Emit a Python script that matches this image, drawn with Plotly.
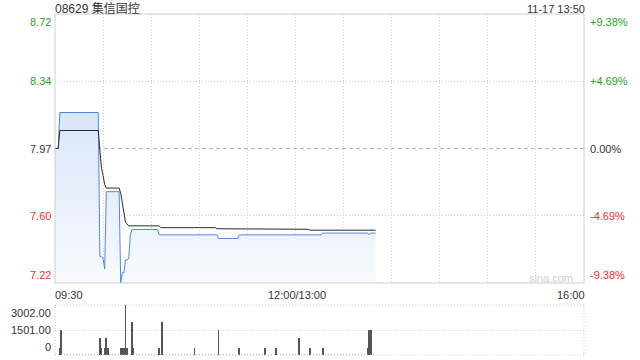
import plotly.graph_objects as go

# ---------------- data ----------------
title_text = "08629 集信国控"
stamp_text = "11-17 13:50"
preclose = 7.97

# price per trading minute, as (value, number of minutes) runs
price_runs = [(7.97, 3), (8.17, 25), (7.37, 2), (7.36, 1), (7.30, 1), (7.73, 9),
              (7.22, 1), (7.28, 2), (7.35, 2), (7.36, 1), (7.49, 1), (7.52, 17),
              (7.49, 37), (7.47, 13), (7.49, 52), (7.50, 29), (7.49, 1), (7.50, 4)]
# average price per trading minute, as runs
avg_runs = [(7.97, 3), (8.07, 25), (7.96, 1), (7.86, 1), (7.82, 1), (7.77, 1),
            (7.75, 9), (7.72, 1), (7.67, 1), (7.62, 1), (7.56, 1), (7.55, 1),
            (7.54, 20), (7.53, 35), (7.524, 38), (7.521, 20), (7.516, 42)]

vol_minutes = [3, 4, 28, 29, 31, 32, 33, 41, 42, 43, 44, 45, 48, 49, 65, 67,
               87, 102, 115, 131, 138, 152, 159, 167, 195, 196, 197]
vol_values = [450, 1500, 1000, 450, 450, 1000, 450, 450, 450, 450, 3000, 450, 2000, 450, 450, 2000,
              450, 1500, 450, 450, 450, 1000, 450, 450, 450, 1500, 1500]

pct_levels = [9.38, 4.69, 0.00, -4.69, -9.38]
price_labels = ["8.72", "8.34", "7.97", "7.60", "7.22"]
pct_labels = ["+9.38%", "+4.69%", "0.00%", "-4.69%", "-9.38%"]
vol_levels = [3002, 1501, 0]
vol_labels = ["3002.00", "1501.00", "0"]
time_labels = ["09:30", "12:00/13:00", "16:00"]
time_minutes = [0, 150, 330]
session_minutes = 330

# ---------------- build ----------------
def expand(runs):
    out = []
    for v, n in runs:
        out += [v] * n
    return out

price = expand(price_runs)
avg = expand(avg_runs)
minutes = list(range(len(price)))
levels = [preclose * (1 + p / 100) for p in pct_levels]
ymax, ymin = levels[0], levels[-1]

FONT = "Liberation Sans, Arial, Noto Sans CJK SC, sans-serif"
GREEN, RED, DARK = "#1fa51f", "#f03030", "#333333"
W, H = 640, 360
MT, MB = 14, 5
PH = H - MT - MB


def py(pix):
    return (H - MB - pix) / PH


fig = go.Figure()
# baseline for the fill
fig.add_trace(go.Scatter(x=minutes, y=[ymin] * len(minutes), mode="lines",
                         line=dict(width=0, color="rgba(0,0,0,0)"), hoverinfo="skip",
                         showlegend=False, xaxis="x", yaxis="y"))
fig.add_trace(go.Scatter(x=minutes, y=price, mode="lines", fill="tonexty",
                         fillgradient=dict(type="vertical",
                                           colorscale=[[0, "rgb(248,250,254)"], [1, "rgb(218,230,250)"]]),
                         line=dict(color="#4f87e6", width=1), showlegend=False,
                         xaxis="x", yaxis="y"))
fig.add_trace(go.Scatter(x=minutes, y=avg, mode="lines",
                         line=dict(color="#2b2b2b", width=1), showlegend=False,
                         xaxis="x", yaxis="y"))
# volume baseline (zero-volume minutes drawn as dots)
fig.add_trace(go.Scatter(x=minutes, y=[0] * len(minutes), mode="lines",
                         line=dict(color="#666666", width=1, dash="1px,2px"),
                         showlegend=False, xaxis="x2", yaxis="y2"))
fig.add_trace(go.Bar(x=vol_minutes, y=vol_values, width=0.55,
                     marker=dict(color="#555555", line=dict(width=0)),
                     showlegend=False, xaxis="x2", yaxis="y2"))

main_bottom = py(283)
vol_top = py(305)

grid = dict(gridcolor="#d0d0d0", griddash="1px,2px", gridwidth=1)
fig.update_layout(
    width=W, height=H, margin=dict(l=55, r=56, t=MT, b=MB),
    paper_bgcolor="white", plot_bgcolor="white", bargap=0,
    xaxis=dict(domain=[0, 1], range=[0, session_minutes], anchor="y", showticklabels=False,
               showgrid=True, tick0=0, dtick=30, zeroline=False, ticks="", **grid),
    yaxis=dict(domain=[main_bottom, 1], range=[ymin, ymax], anchor="x", showticklabels=False,
               tickvals=[levels[1], levels[3]], showgrid=True, zeroline=False, ticks="", **grid),
    xaxis2=dict(domain=[0, 1], range=[0, session_minutes], anchor="y2", showticklabels=False,
                showgrid=False, zeroline=False, ticks=""),
    yaxis2=dict(domain=[0, vol_top], range=[0, vol_levels[0]], anchor="x2", showticklabels=False,
                tickvals=[vol_levels[1]], showgrid=True, zeroline=False, ticks="", **grid),
    font=dict(family=FONT, size=11, color=DARK),
)

shapes = [
    dict(type="rect", xref="x domain", yref="y domain", x0=0, x1=1, y0=0, y1=1,
         line=dict(color="#cccccc", width=1)),
    dict(type="rect", xref="x2 domain", yref="y2 domain", x0=0, x1=1, y0=0, y1=1,
         line=dict(color="#cccccc", width=1, dash="1px,2px")),
    dict(type="line", xref="x", yref="y", x0=0, x1=session_minutes, y0=preclose, y1=preclose,
         line=dict(color="#b5b5b5", width=1, dash="4px,3px"), layer="below"),
]
fig.update_layout(shapes=shapes)

ann = []
ann.append(dict(text=title_text, x=0, xref="paper", xanchor="left", xshift=-2,
                y=py(8), yref="paper", yanchor="middle", showarrow=False,
                font=dict(family=FONT, size=12, color=DARK)))
ann.append(dict(text=stamp_text, x=1, xref="paper", xanchor="right", xshift=3,
                y=py(9), yref="paper", yanchor="middle", showarrow=False,
                font=dict(family=FONT, size=11, color=DARK)))
for lvl, lab, plab, p in zip(levels, price_labels, pct_labels, pct_levels):
    col = GREEN if p > 0 else (RED if p < 0 else DARK)
    ya = "top" if lvl == ymax else ("bottom" if lvl == ymin else "middle")
    ann.append(dict(text=lab, x=0, xref="paper", xanchor="right", xshift=-2, y=lvl, yref="y",
                    yanchor=ya, showarrow=False, font=dict(family=FONT, size=11, color=col)))
    ann.append(dict(text=plab, x=1, xref="paper", xanchor="left", xshift=4, y=lvl, yref="y",
                    yanchor=ya, showarrow=False, font=dict(family=FONT, size=11, color=col)))
for lvl, lab in zip(vol_levels, vol_labels):
    ya = "top" if lvl == vol_levels[0] else ("bottom" if lvl == 0 else "middle")
    ann.append(dict(text=lab, x=0, xref="paper", xanchor="right", xshift=-2, y=lvl, yref="y2",
                    yanchor=ya, showarrow=False, font=dict(family=FONT, size=11, color=DARK)))
for m, lab in zip(time_minutes, time_labels):
    xa = "left" if m == 0 else ("right" if m == session_minutes else "center")
    ann.append(dict(text=lab, x=m, xref="x", xanchor=xa, xshift=(-2 if m == 0 else (3 if m == session_minutes else 2)),
                    y=py(295), yref="paper", yanchor="middle", showarrow=False,
                    font=dict(family=FONT, size=11, color=DARK)))
ann.append(dict(text="sina.com", x=1, xref="paper", xanchor="right", xshift=-9, y=ymin, yref="y",
                yanchor="bottom", yshift=-3, showarrow=False,
                font=dict(family=FONT, size=11, color="#cfcfcf")))
fig.update_layout(annotations=ann)

fig.write_html("out.html", config={"displayModeBar": False},
               post_script="document.body.style.margin='0';document.body.style.padding='0';")
